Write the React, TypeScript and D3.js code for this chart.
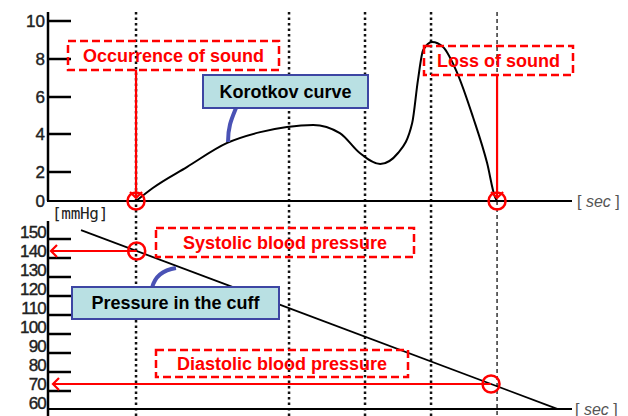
import React from "react";
import * as d3 from "d3";

// ---- data ----
const korotkovTime = [1.68, 2.0, 2.65, 3.42, 4.05, 4.56, 5.06, 5.57, 5.95, 6.34, 6.68, 6.95, 7.06, 7.16, 7.33, 7.54, 7.81, 8.11, 8.38, 8.53, 8.57];
const korotkovValue = [0, 0.9, 2.26, 3.53, 4.1, 4.38, 4.49, 4.05, 3.0, 2.42, 3.0, 4.59, 6.89, 8.47, 8.9, 8.63, 7.26, 4.92, 2.47, 0.28, 0];
const cuffTime = [0.63, 9.73];
const cuffPressure = [151, 56.8];
const markerTimes = [1.68, 4.6, 6.05, 7.31, 8.57];
const topTicks = [0, 2, 4, 6, 8, 10];
const bottomTicks = [60, 70, 80, 90, 100, 110, 120, 130, 140, 150];
const systolic = 140;
const diastolic = 70;
const soundStart = 1.68;
const soundEnd = 8.57;

const W = 628;
const H = 416;
const RED = "#ff0000";
const FONT = "'Liberation Sans', Arial, sans-serif";

export default function App() {
  const x = d3.scaleLinear().domain([0, 10]).range([48, 572]);
  const yTop = d3.scaleLinear().domain([0, 2, 4, 6, 8, 10]).range([201, 172, 134, 97, 59, 21]);
  const yBot = d3.scaleLinear().domain([60, 150]).range([403, 232]);

  const korPts: [number, number][] = korotkovTime.map((t, i) => [t, korotkovValue[i]]);
  const korLine = d3
    .line<[number, number]>()
    .x((d) => x(d[0]))
    .y((d) => yTop(d[1]))
    .curve(d3.curveMonotoneX)(korPts);

  const cuffPts: [number, number][] = cuffTime.map((t, i) => [t, cuffPressure[i]]);
  const cuffLine = d3
    .line<[number, number]>()
    .x((d) => x(d[0]))
    .y((d) => yBot(d[1]))(cuffPts);

  // time where cuff pressure reaches a given value
  const cuffAt = d3.scaleLinear().domain(cuffPressure).range(cuffTime);
  const tSys = cuffAt(systolic);
  const tDia = cuffAt(diastolic);

  const axisTopY = yTop(0);
  const axisBotY = 409;

  const redBox = (x0: number, y0: number, x1: number, y1: number, label: string) => (
    <g>
      <rect x={x0} y={y0} width={x1 - x0} height={y1 - y0} fill="none" stroke={RED} strokeWidth={2.5} strokeDasharray="8 4" />
      <text x={(x0 + x1) / 2} y={(y0 + y1) / 2} textAnchor="middle" dominantBaseline="central" fill={RED} fontWeight="bold" fontSize={18} fontFamily={FONT}>
        {label}
      </text>
    </g>
  );
  const blueBox = (x0: number, y0: number, x1: number, y1: number, label: string) => (
    <g>
      <rect x={x0} y={y0} width={x1 - x0} height={y1 - y0} fill="#b9e0e3" stroke="#3d46a3" strokeWidth={2} />
      <text x={(x0 + x1) / 2} y={(y0 + y1) / 2} textAnchor="middle" dominantBaseline="central" fill="#000" fontWeight="bold" fontSize={18} fontFamily={FONT}>
        {label}
      </text>
    </g>
  );
  const chevron = (px: number, py: number, dir: "down" | "left") => {
    const s = 6;
    const d =
      dir === "down"
        ? `M${px - s},${py - s} L${px},${py} L${px + s},${py - s}`
        : `M${px + s},${py - s} L${px},${py} L${px + s},${py + s}`;
    return <path d={d} fill="none" stroke={RED} strokeWidth={2.2} />;
  };

  return (
    <svg width={W} height={H} style={{ position: "absolute", left: 0, top: 0, background: "#fff" }}>
      {/* vertical timing markers */}
      {markerTimes.map((t, i) => {
        const last = i === markerTimes.length - 1;
        return (
          <line
            key={i}
            x1={x(t)}
            x2={x(t)}
            y1={12}
            y2={H}
            stroke={last ? "#333" : "#111"}
            strokeWidth={last ? 1.5 : 2.5}
            strokeDasharray={last ? "4 3" : "2.5 3"}
          />
        );
      })}

      {/* top axis */}
      <line x1={48} x2={48} y1={12} y2={axisTopY} stroke="#000" strokeWidth={2.5} />
      <line x1={47} x2={x(10)} y1={axisTopY} y2={axisTopY} stroke="#000" strokeWidth={2} />
      {topTicks.map((v) => (
        <g key={v}>
          {v > 0 && <line x1={48} x2={71} y1={yTop(v)} y2={yTop(v)} stroke="#000" strokeWidth={2.5} />}
          <text x={45} y={yTop(v)} textAnchor="end" dominantBaseline="central" fontSize={17} fontFamily={FONT} fill="#222" stroke="#222" strokeWidth={0.4}>
            {v}
          </text>
        </g>
      ))}
      <text x={577} y={axisTopY} dominantBaseline="central" fontSize={16} fontFamily={FONT} fill="#555">
        [ <tspan fontStyle="italic">sec</tspan> ]
      </text>

      {/* bottom axis */}
      <line x1={48} x2={48} y1={221} y2={H} stroke="#000" strokeWidth={2.5} />
      <line x1={47} x2={x(10)} y1={axisBotY} y2={axisBotY} stroke="#000" strokeWidth={2} />
      {bottomTicks.map((v) => (
        <g key={v}>
          {v > 60 && <line x1={48} x2={71} y1={yBot(v) + 7} y2={yBot(v) + 7} stroke="#000" strokeWidth={2.5} />}
          <text x={46} y={yBot(v)} textAnchor="end" dominantBaseline="central" fontSize={17} letterSpacing={-0.8} fontFamily={FONT} fill="#222" stroke="#222" strokeWidth={0.4}>
            {v}
          </text>
        </g>
      ))}
      <text x={52} y={213} dominantBaseline="central" fontSize={16} letterSpacing={-0.3} fontFamily="'DejaVu Sans Mono', monospace" fill="#222">
        [mmHg]
      </text>
      <text x={575} y={axisBotY} dominantBaseline="central" fontSize={16} fontFamily={FONT} fill="#555">
        [ <tspan fontStyle="italic">sec</tspan> ]
      </text>

      {/* data lines */}
      <path d={korLine ?? ""} fill="none" stroke="#000" strokeWidth={2} />
      <path d={cuffLine ?? ""} fill="none" stroke="#000" strokeWidth={1.8} />

      {/* blue pointers */}
      <path d="M236,108 C232,118 228,126 228,142" fill="none" stroke="#4a52b5" strokeWidth={4} />
      <path d="M152,288 Q156,271 176,268" fill="none" stroke="#4a52b5" strokeWidth={4} />

      {/* annotation boxes */}
      {blueBox(203, 75, 368, 108, "Korotkov curve")}
      {blueBox(72, 287, 279, 319, "Pressure in the cuff")}
      {redBox(68, 41, 279, 70, "Occurrence of sound")}
      {redBox(424, 46, 573, 75, "Loss of sound")}
      {redBox(156, 228, 414, 257, "Systolic blood pressure")}
      {redBox(156, 350, 408, 377, "Diastolic blood pressure")}

      {/* red arrows */}
      <line x1={x(soundStart)} x2={x(soundStart)} y1={70} y2={axisTopY - 3} stroke={RED} strokeWidth={2.2} />
      {chevron(x(soundStart), axisTopY - 3, "down")}
      <line x1={x(soundEnd)} x2={x(soundEnd)} y1={75} y2={axisTopY - 3} stroke={RED} strokeWidth={2.2} />
      {chevron(x(soundEnd), axisTopY - 3, "down")}
      <line x1={x(tSys)} x2={51} y1={yBot(systolic)} y2={yBot(systolic)} stroke={RED} strokeWidth={2.2} />
      {chevron(51, yBot(systolic), "left")}
      <line x1={x(tDia)} x2={53} y1={yBot(diastolic)} y2={yBot(diastolic)} stroke={RED} strokeWidth={2.2} />
      {chevron(53, yBot(diastolic), "left")}

      {/* circles */}
      <circle cx={x(soundStart)} cy={yTop(0)} r={8.5} fill="none" stroke={RED} strokeWidth={2.5} />
      <circle cx={x(soundEnd)} cy={yTop(0)} r={8.5} fill="none" stroke={RED} strokeWidth={2.5} />
      <circle cx={x(tSys)} cy={yBot(systolic)} r={8.5} fill="none" stroke={RED} strokeWidth={2.5} />
      <circle cx={x(tDia)} cy={yBot(diastolic)} r={8.5} fill="none" stroke={RED} strokeWidth={2.5} />
    </svg>
  );
}
